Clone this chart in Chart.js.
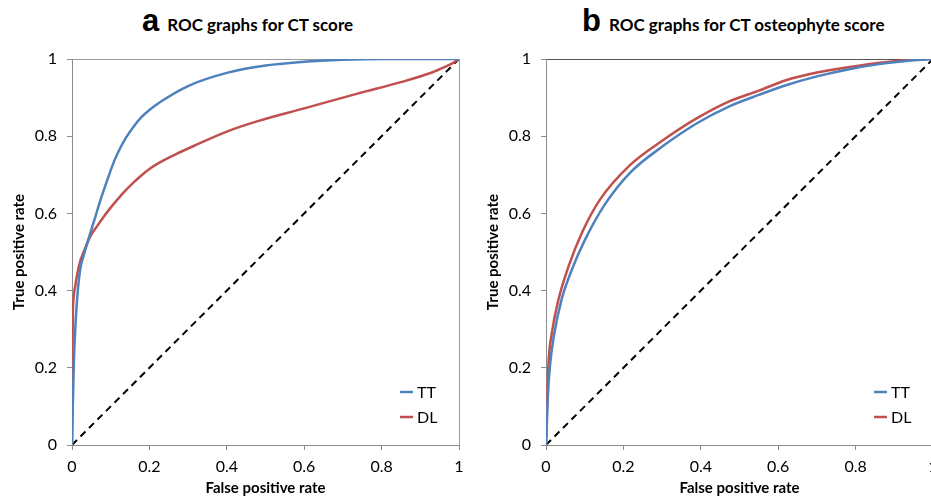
<!DOCTYPE html>
<html>
<head>
<meta charset="utf-8">
<script src="https://cdn.jsdelivr.net/npm/chart.js@4.4.1/dist/chart.umd.min.js"></script>
<style>
  html, body { margin: 0; padding: 0; background: #fff; overflow: hidden; }
  #wrap { position: relative; width: 931px; height: 498px; overflow: hidden; background: #fff; }
  .box { position: absolute; top: 0; width: 465px; height: 498px; }
  .title { position: absolute; top: 3px; display: flex; align-items: baseline; white-space: nowrap;
           font-family: Lato, sans-serif; font-weight: bold; font-size: 17px; color: #000; }
  .title b { font-family: "Liberation Sans", Arial, sans-serif; font-size: 31px; margin-right: 8px; }
</style>
</head>
<body>
<div id="wrap">
  <div class="title" style="left:142px"><b>a</b>ROC graphs for CT score</div>
  <div class="title" style="left:582px"><b>b</b>ROC graphs for CT osteophyte score</div>
  <div class="box" style="left:0"><canvas id="rocA"></canvas></div>
  <div class="box" style="left:474px"><canvas id="rocB"></canvas></div>
</div>
<script>
const tickValues = [0, 0.2, 0.4, 0.6, 0.8, 1];
const seriesNames = ["TT", "DL"];
const seriesColors = ["#4F81BD", "#C0504D"];

// panel a: CT score
const ctFprTT = [0, 0.002, 0.005, 0.01, 0.015, 0.022, 0.03, 0.04, 0.05, 0.06, 0.072, 0.09, 0.11, 0.125, 0.14, 0.16, 0.18, 0.2, 0.23, 0.3, 0.4, 0.5, 0.6, 0.7, 0.8, 0.9, 1];
const ctTprTT = [0, 0.1, 0.22, 0.33, 0.4, 0.46, 0.49, 0.525, 0.558, 0.59, 0.63, 0.683, 0.738, 0.77, 0.797, 0.826, 0.85, 0.868, 0.89, 0.93, 0.964, 0.983, 0.993, 0.998, 1, 1, 1];
const ctFprDL = [0, 0.001, 0.002, 0.004, 0.008, 0.014, 0.021, 0.03, 0.047, 0.065, 0.081, 0.1, 0.12, 0.141, 0.16, 0.18, 0.2, 0.227, 0.27, 0.313, 0.4, 0.48, 0.6, 0.74, 0.85, 0.93, 0.965, 0.985, 1];
const ctTprDL = [0, 0.2, 0.33, 0.38, 0.41, 0.445, 0.475, 0.5, 0.54, 0.567, 0.59, 0.615, 0.639, 0.662, 0.681, 0.699, 0.715, 0.732, 0.754, 0.774, 0.812, 0.839, 0.872, 0.911, 0.94, 0.965, 0.98, 0.99, 1];

// panel b: CT osteophyte score
const ostFprTT = [0, 0.002, 0.005, 0.01, 0.02, 0.04, 0.07, 0.1, 0.15, 0.217, 0.303, 0.389, 0.475, 0.55, 0.62, 0.7, 0.79, 0.87, 0.93, 0.97, 1];
const ostTprTT = [0, 0.05, 0.13, 0.203, 0.28, 0.376, 0.462, 0.53, 0.62, 0.705, 0.775, 0.833, 0.878, 0.907, 0.932, 0.955, 0.975, 0.988, 0.995, 0.998, 1];
const ostFprDL = [0, 0.001, 0.002, 0.006, 0.015, 0.032, 0.058, 0.092, 0.139, 0.217, 0.303, 0.389, 0.475, 0.55, 0.62, 0.7, 0.79, 0.87, 0.93, 0.97, 1];
const ostTprDL = [0, 0.03, 0.073, 0.203, 0.289, 0.376, 0.462, 0.548, 0.635, 0.725, 0.79, 0.846, 0.891, 0.918, 0.945, 0.965, 0.98, 0.991, 0.997, 0.999, 1];

const chance = [0, 1];

Chart.defaults.font.family = "Lato, sans-serif";
Chart.defaults.color = "#000";

function pts(xs, ys) {
  return xs.map((x, i) => ({ x, y: ys[i] }));
}

const isOne = (v) => Math.abs(v - 1) < 1e-9;

const insideLegend = {
  id: "insideLegend",
  afterDatasetsDraw(chart) {
    const { ctx, chartArea } = chart;
    ctx.save();
    ctx.font = "16px Lato, sans-serif";
    ctx.textBaseline = "middle";
    ctx.fillStyle = "#000";
    seriesNames.forEach((name, i) => {
      const x = chartArea.right - 59;
      const y = chartArea.bottom - 53 + i * 25;
      ctx.strokeStyle = seriesColors[i];
      ctx.lineWidth = 2.5;
      ctx.beginPath();
      ctx.moveTo(x, y);
      ctx.lineTo(x + 13, y);
      ctx.stroke();
      ctx.fillText(name, x + 17, y + 1);
    });
    ctx.restore();
  },
};

function rocChart(id, tt, dl, topColor) {
  return new Chart(document.getElementById(id), {
    type: "scatter",
    data: {
      datasets: [
        { label: seriesNames[0], data: tt, borderColor: seriesColors[0], borderWidth: 2.5,
          showLine: true, pointRadius: 0, cubicInterpolationMode: "monotone" },
        { label: seriesNames[1], data: dl, borderColor: seriesColors[1], borderWidth: 2.5,
          showLine: true, pointRadius: 0, cubicInterpolationMode: "monotone" },
        { label: "chance", data: pts(chance, chance), borderColor: "#000", borderWidth: 2,
          borderDash: [7, 5], showLine: true, pointRadius: 0 },
      ],
    },
    options: {
      responsive: true,
      maintainAspectRatio: false,
      animation: false,
      layout: { padding: { top: 59, right: 6, left: 0, bottom: 0 } },
      plugins: { legend: { display: false }, tooltip: { enabled: false } },
      scales: {
        x: {
          type: "linear", min: 0, max: 1,
          afterFit: (s) => { s.height = 53; s.paddingLeft = 0; s.paddingRight = 0; },
          afterBuildTicks: (s) => { s.ticks = tickValues.map((v) => ({ value: v })); },
          border: { color: "#8c8c8c" },
          grid: { color: (c) => (c.tick && isOne(c.tick.value) ? "#9a9a9a" : "rgba(0,0,0,0)"),
                  tickColor: "#8c8c8c", tickLength: 5 },
          ticks: { font: { size: 16 }, padding: 7, maxRotation: 0,
                   callback: (v) => String(Number(v.toFixed(1))) },
          title: { display: true, text: "False positive rate", font: { size: 15, weight: "bold" },
                   padding: { top: 0, bottom: 1 } },
        },
        y: {
          type: "linear", min: 0, max: 1,
          afterFit: (s) => { s.width = 72; },
          afterBuildTicks: (s) => { s.ticks = tickValues.map((v) => ({ value: v })); },
          border: { color: "#8c8c8c" },
          grid: { color: (c) => (c.tick && isOne(c.tick.value) ? topColor : "rgba(0,0,0,0)"),
                  tickColor: "#8c8c8c", tickLength: 5 },
          ticks: { font: { size: 16 }, padding: 10,
                   callback: (v) => String(Number(v.toFixed(1))) },
          title: { display: true, text: "True positive rate", font: { size: 15, weight: "bold" },
                   padding: { top: 10, bottom: 0 } },
        },
      },
    },
    plugins: [insideLegend],
  });
}

rocChart("rocA", pts(ctFprTT, ctTprTT), pts(ctFprDL, ctTprDL), "#9a9a9a");
rocChart("rocB", pts(ostFprTT, ostTprTT), pts(ostFprDL, ostTprDL), "#555555");
</script>
</body>
</html>
